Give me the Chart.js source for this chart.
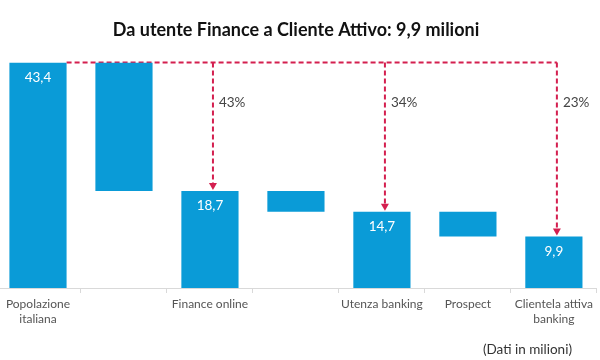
<!DOCTYPE html>
<html>
<head>
<meta charset="utf-8">
<script src="https://cdn.jsdelivr.net/npm/chart.js@4/dist/chart.umd.min.js"></script>
<style>
  html, body { margin: 0; padding: 0; background: #fff; overflow: hidden; }
  #wrap { position: absolute; left: -5px; top: 0; width: 602px; height: 360px; }
</style>
</head>
<body>
<div id="wrap"><canvas id="chart"></canvas></div>
<script>
// dati (milioni)
const categories = [['Popolazione', 'italiana'], '', 'Finance online', '', 'Utenza banking', 'Prospect', ['Clientela attiva', 'banking']];
const barStart = [0, 18.7, 0, 14.7, 0, 9.9, 0];
const barEnd = [43.4, 43.4, 18.7, 18.7, 14.7, 14.7, 9.9];
const shareLabels = ['43%', '34%', '23%'];
const shareTargets = [2, 4, 6];
const titleText = 'Da utente Finance a Cliente Attivo: 9,9 milioni';
const noteText = '(Dati in milioni)';

const BLUE = '#0a9bd7';
const RED = '#d41f4f';
const FONT = 'Lato, "Open Sans", sans-serif';

const fmt = v => v.toFixed(1).replace('.', ',');

const funnelMarks = {
  id: 'funnelMarks',
  beforeDatasetsDraw(chart) {
    const ctx = chart.ctx;
    const bars = chart.getDatasetMeta(0).data;
    const y = chart.scales.y;
    const topY = y.getPixelForValue(barEnd[0]);
    const startX = bars[0].x + bars[0].width / 2;
    const lastX = bars[shareTargets[shareTargets.length - 1]].x + 3;

    ctx.save();
    ctx.strokeStyle = RED;
    ctx.fillStyle = RED;
    ctx.lineWidth = 2;
    ctx.setLineDash([5, 3]);
    ctx.beginPath();
    ctx.moveTo(startX, topY);
    ctx.lineTo(lastX, topY);
    ctx.stroke();

    shareTargets.forEach((idx, i) => {
      const x = bars[idx].x + 3;
      const endY = y.getPixelForValue(barEnd[idx]) - 1;
      ctx.setLineDash([5, 3]);
      ctx.beginPath();
      ctx.moveTo(x, topY);
      ctx.lineTo(x, endY - 6);
      ctx.stroke();
      // punta della freccia
      ctx.setLineDash([]);
      ctx.beginPath();
      ctx.moveTo(x - 4, endY - 7);
      ctx.lineTo(x + 4, endY - 7);
      ctx.lineTo(x, endY);
      ctx.closePath();
      ctx.fill();

      ctx.fillStyle = '#444';
      ctx.font = '13.5px ' + FONT;
      ctx.textAlign = 'left';
      ctx.textBaseline = 'middle';
      ctx.fillText(shareLabels[i], x + 6, topY + 40);
      ctx.fillStyle = RED;
    });
    ctx.restore();
  },
  afterDatasetsDraw(chart) {
    const ctx = chart.ctx;
    const bars = chart.getDatasetMeta(0).data;
    ctx.save();
    ctx.fillStyle = '#fff';
    ctx.font = '13.5px ' + FONT;
    ctx.textAlign = 'center';
    ctx.textBaseline = 'middle';
    bars.forEach((b, i) => {
      if (barStart[i] !== 0) return;
      ctx.fillText(fmt(barEnd[i]), b.x, b.y + 15);
    });
    ctx.restore();
  },
  afterDraw(chart) {
    const ctx = chart.ctx;
    ctx.save();
    ctx.fillStyle = '#333';
    ctx.font = '13.5px ' + FONT;
    ctx.textAlign = 'right';
    ctx.textBaseline = 'middle';
    ctx.fillText(noteText, 577, 350);
    ctx.restore();
  }
};

new Chart(document.getElementById('chart'), {
  type: 'bar',
  data: {
    labels: categories,
    datasets: [{
      data: barStart.map((s, i) => [s, barEnd[i]]),
      backgroundColor: BLUE,
      borderWidth: 0,
      categoryPercentage: 1,
      barPercentage: 0.665
    }]
  },
  options: {
    responsive: true,
    maintainAspectRatio: false,
    animation: false,
    layout: { padding: { top: 0, bottom: 29, left: 0, right: 0 } },
    plugins: {
      legend: { display: false },
      tooltip: { enabled: false },
      title: {
        display: true,
        text: titleText,
        color: '#111',
        font: { family: FONT, size: 18, weight: 'bold' },
        padding: { top: 19, bottom: 22 }
      }
    },
    scales: {
      x: {
        grid: {
          offset: true,
          drawOnChartArea: false,
          tickLength: 5,
          color: '#d9d9d9'
        },
        border: { color: '#d9d9d9' },
        ticks: {
          color: '#555',
          font: { family: FONT, size: 12, lineHeight: 1.25 },
          padding: 4,
          maxRotation: 0,
          autoSkip: false
        }
      },
      y: {
        display: false,
        min: 0,
        max: 43.4
      }
    }
  },
  plugins: [funnelMarks]
});
</script>
</body>
</html>
